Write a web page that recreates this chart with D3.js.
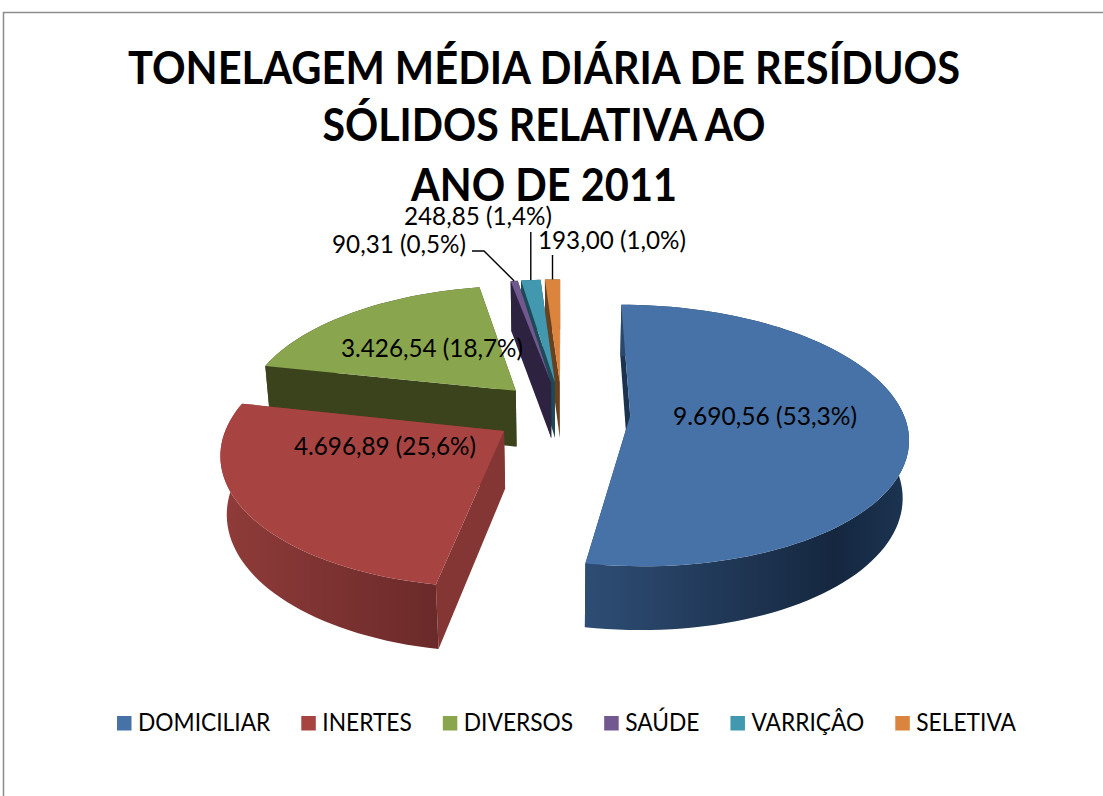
<!DOCTYPE html>
<html><head><meta charset="utf-8">
<script src="https://d3js.org/d3.v7.min.js"></script>
<style>html,body{margin:0;padding:0;background:#fff}svg{display:block}text{font-family:Lato,"Open Sans",sans-serif;fill:#000}</style>
</head><body><svg id="c" width="1103" height="796"></svg>
<script>
const categories=["DOMICILIAR","INERTES","DIVERSOS","SAÚDE","VARRIÇÂO","SELETIVA"];
const tonnage=[9690.56,4696.89,3426.54,90.31,248.85,193.00];
const percent=[53.3,25.6,18.7,0.5,1.4,1.0];
const titleLines=["TONELAGEM MÉDIA DIÁRIA DE RESÍDUOS","SÓLIDOS RELATIVA AO","ANO DE 2011"];
const titleWidths=[832,443,266];
const topColors=["#4672a7","#a74442","#89a54e","#71588f","#4198af","#db843d"];
const rayColors=["#1c3350","#843634","#3a431c","#2d2340","#1d4a56","#6b401c"];
const rimStops=[[[190,140,90],["#2e4d74","#15273f","#1b3350"]],
                [[270,190],["#8e3b39","#6a2a29"]],[[285,345],["#3a431c","#3a431c"]],
                [[348,351],["#2d2340","#2d2340"]],[[351,356],["#1d4a56","#1d4a56"]],[[356,360],["#6b401c","#6b401c"]]];
const explode=[.25,.25,.25,.25,.25,.25];
// painter's order, back to front
const drawOrder=[2,5,4,3,1,0];
const labelPlace=[[765,417],[385,447],[432,349],[399,245],[478,217],[612,241]];
const labelWidth=[184,182,182,134,148,148];

const svg=d3.select("#c");
const defs=svg.append("defs");
svg.append("path").attr("d","M3.5,796V12.5H1103").attr("fill","none").attr("stroke","#8c8c8c").attr("stroke-width",1.5);

const fmt=d3.formatLocale({decimal:",",thousands:".",grouping:[3],currency:["",""]}).format(",.2f");
const pctFmt=p=>p.toFixed(1).replace(".",",")+"%";

// camera
const Cx=562,Cy=413,A=273,k=.15,m=.0756,sinT=.465,cosT=.885,H=.24;
const project=(X,Y,Z)=>{const s=1/(1-k*Y-m*Z);return [Cx+A*X*s,Cy+A*(Y*sinT-Z*cosT)*s];};
const line=d3.line();

const pie=d3.pie().sort(null).startAngle(0).endAngle(2*Math.PI);
const arcs=pie(tonnage);
const apex=(a,i)=>{const mid=(a.startAngle+a.endAngle)/2;return [Math.sin(mid)*explode[i],-Math.cos(mid)*explode[i]];};
const rim=(a,i,t,Z)=>{const o=apex(a,i);return project(o[0]+Math.sin(t),o[1]-Math.cos(t),Z);};
const stepsOf=a=>Math.max(2,Math.ceil((a.endAngle-a.startAngle)/(Math.PI/90)));
const rad=d=>d*Math.PI/180;

const g=svg.append("g");
drawOrder.forEach(i=>{
  const a=arcs[i],o=apex(a,i),n=stepsOf(a);
  const ts=d3.range(n+1).map(j=>a.startAngle+(a.endAngle-a.startAngle)*j/n);
  const sg=g.append("g").attr("class","slice");
  // radial walls
  [a.endAngle,a.startAngle].forEach(t=>{
    sg.append("path").attr("d",line([project(o[0],o[1],0),rim(a,i,t,0),rim(a,i,t,-H),project(o[0],o[1],-H)])+"Z")
      .attr("fill",rayColors[i]);
  });
  // outer rim with a horizontal shade
  const xs=rimStops[i][0].map(d=>rim(a,i,rad(d),-H/2)[0]);
  const x0=d3.min(xs),x1=d3.max(xs);
  const grad=defs.append("linearGradient").attr("id","rim"+i).attr("gradientUnits","userSpaceOnUse")
    .attr("x1",x0).attr("x2",x1).attr("y1",0).attr("y2",0);
  rimStops[i][0].map((d,j)=>({o:(xs[j]-x0)/((x1-x0)||1),c:rimStops[i][1][j]})).sort((p,q)=>p.o-q.o)
    .forEach(s=>grad.append("stop").attr("offset",s.o).attr("stop-color",s.c));
  sg.append("path").attr("d",line([...ts.map(t=>rim(a,i,t,0)),...ts.slice().reverse().map(t=>rim(a,i,t,-H))])+"Z")
    .attr("fill","url(#rim"+i+")");
  // top face
  sg.append("path").attr("d",line([project(o[0],o[1],0),...ts.map(t=>rim(a,i,t,0))])+"Z").attr("fill",topColors[i]);
});

// leader lines for the three thin slices
const mids=i=>(arcs[i].startAngle+arcs[i].endAngle)/2;
const leaderTop=[null,null,null,[[472,251],[484,251]],[[0,232]],[[0,255]]];
[3,4,5].forEach(i=>{
  const e=rim(arcs[i],i,mids(i),0);
  const pts=leaderTop[i].map(p=>[p[0]||e[0],p[1]]).concat([e]);
  svg.append("path").attr("d",line(pts)).attr("fill","none").attr("stroke","#000").attr("stroke-width",1.4);
});

// title
const ty=[84,141,201];
titleLines.forEach((t,i)=>svg.append("text").attr("x",544).attr("y",ty[i]).attr("text-anchor","middle")
  .attr("font-size",46).attr("font-weight",700).attr("textLength",titleWidths[i]).attr("lengthAdjust","spacingAndGlyphs").text(t));

// data labels
categories.forEach((c,i)=>{
  svg.append("text").attr("x",labelPlace[i][0]).attr("y",labelPlace[i][1]+8).attr("text-anchor","middle")
   .attr("font-size",25.5).attr("textLength",labelWidth[i]).attr("lengthAdjust","spacingAndGlyphs")
   .text(fmt(tonnage[i])+" ("+pctFmt(percent[i])+")");
});

// legend
let lx=117;
categories.forEach((c,i)=>{
  svg.append("rect").attr("x",lx).attr("y",716).attr("width",14.5).attr("height",14.5).attr("fill",topColors[i]);
  const t=svg.append("text").attr("x",lx+21).attr("y",731).attr("font-size",25).text(c);
  const w=t.node().getComputedTextLength()*.91;
  t.attr("textLength",w).attr("lengthAdjust","spacingAndGlyphs");
  lx+=21+w+31;
});
</script></body></html>
